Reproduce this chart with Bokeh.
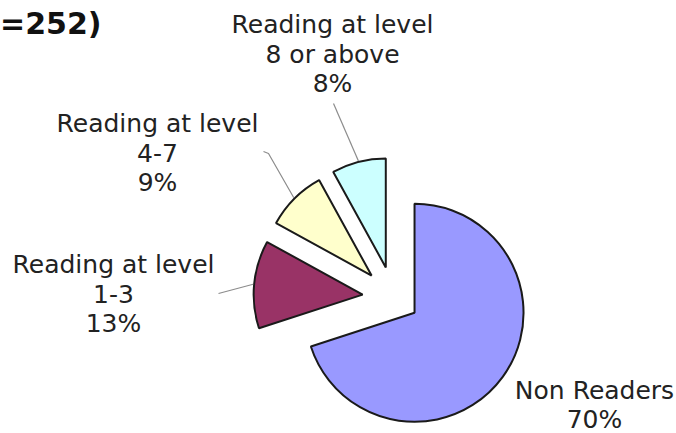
import numpy as np
from bokeh.plotting import figure
from bokeh.models import Range1d, ColumnDataSource
from bokeh.embed import file_html
from bokeh.resources import INLINE
from bokeh.core.properties import value

# ---- data ----
categories = ["Non Readers", "Reading at level 1-3", "Reading at level 4-7", "Reading at level 8 or above"]
percents = [70, 13, 9, 8]
label_text = [["Non Readers"], ["Reading at level", "1-3"], ["Reading at level", "4-7"], ["Reading at level", "8 or above"]]
colors = ["#9999FF", "#993366", "#FFFFCC", "#CCFFFF"]
title_fragment = "=252)"

# ---- layout (reference pixel coords, converted below) ----
W, H = 676, 433
def to_data(X, Y):
    return X, H - Y

center_ref = (393, 297)
radius = 109
explode = [26, 31, 31, 31]
label_pos_ref = [(594, 398), (113, 272), (157, 131.5), (332, 32.5)]  # center x, first baseline
line_pitch = 29.5
leader_ends_ref = [[], [(218, 293)], [(268, 153), (263, 151)], [(333, 103)]]
FONT = "DejaVu Sans"
LABEL_SIZE = 25
TITLE_SIZE = 30
BASE_SHIFT = 0.34  # empirical correction of rendered baseline, in em

p = figure(width=W, height=H, x_range=Range1d(0, W), y_range=Range1d(0, H),
           output_backend="svg", toolbar_location=None, min_border=0,
           x_axis_type=None, y_axis_type=None)
p.grid.visible = False
p.outline_line_color = None
p.background_fill_color = "white"

cx0, cy0 = to_data(*center_ref)
frac = np.array(percents, dtype=float) / sum(percents)
cum = np.concatenate([[0], np.cumsum(frac)])
a_start = np.pi / 2 - cum[:-1] * 2 * np.pi   # clockwise from 12 o'clock
a_end = np.pi / 2 - cum[1:] * 2 * np.pi
mid = (a_start + a_end) / 2
cx = cx0 + np.array(explode) * np.cos(mid)
cy = cy0 + np.array(explode) * np.sin(mid)

src = ColumnDataSource(dict(x=cx, y=cy, s=a_end, e=a_start, c=colors, cat=categories))
p.wedge(x="x", y="y", radius=radius, start_angle="s", end_angle="e", fill_color="c",
        line_color="#1a1a1a", line_width=2, source=src)

# leader lines
lxs, lys = [], []
for i, ends in enumerate(leader_ends_ref):
    if not ends:
        continue
    xs = [cx[i] + (radius + 1) * np.cos(mid[i])]
    ys = [cy[i] + (radius + 1) * np.sin(mid[i])]
    for (X, Y) in ends:
        dx, dy = to_data(X, Y)
        xs.append(dx); ys.append(dy)
    lxs.append(xs); lys.append(ys)
p.multi_line(xs=lxs, ys=lys, line_color="#8c8c8c", line_width=1.2)

# labels
tx, ty, tt = [], [], []
for i, lines in enumerate(label_text):
    X, Y = label_pos_ref[i]
    all_lines = lines + [f"{percents[i]}%"]
    for k, ln in enumerate(all_lines):
        dx, dy = to_data(X, Y + k * line_pitch - BASE_SHIFT * LABEL_SIZE)
        tx.append(dx); ty.append(dy); tt.append(ln)
p.text(x=tx, y=ty, text=tt, text_align="center", text_baseline="alphabetic",
       text_font=value(FONT), text_font_size=f"{LABEL_SIZE}px", text_color="#222222")

# title fragment (visible part of the title in the reference)
tX, tY = to_data(101, 33 - BASE_SHIFT * TITLE_SIZE)
p.text(x=[tX], y=[tY], text=[title_fragment], text_align="right", text_baseline="alphabetic",
       text_font=value(FONT), text_font_style="bold", text_font_size=f"{TITLE_SIZE}px", text_color="#111111")

open("out.html", "w").write(file_html(p, INLINE))
